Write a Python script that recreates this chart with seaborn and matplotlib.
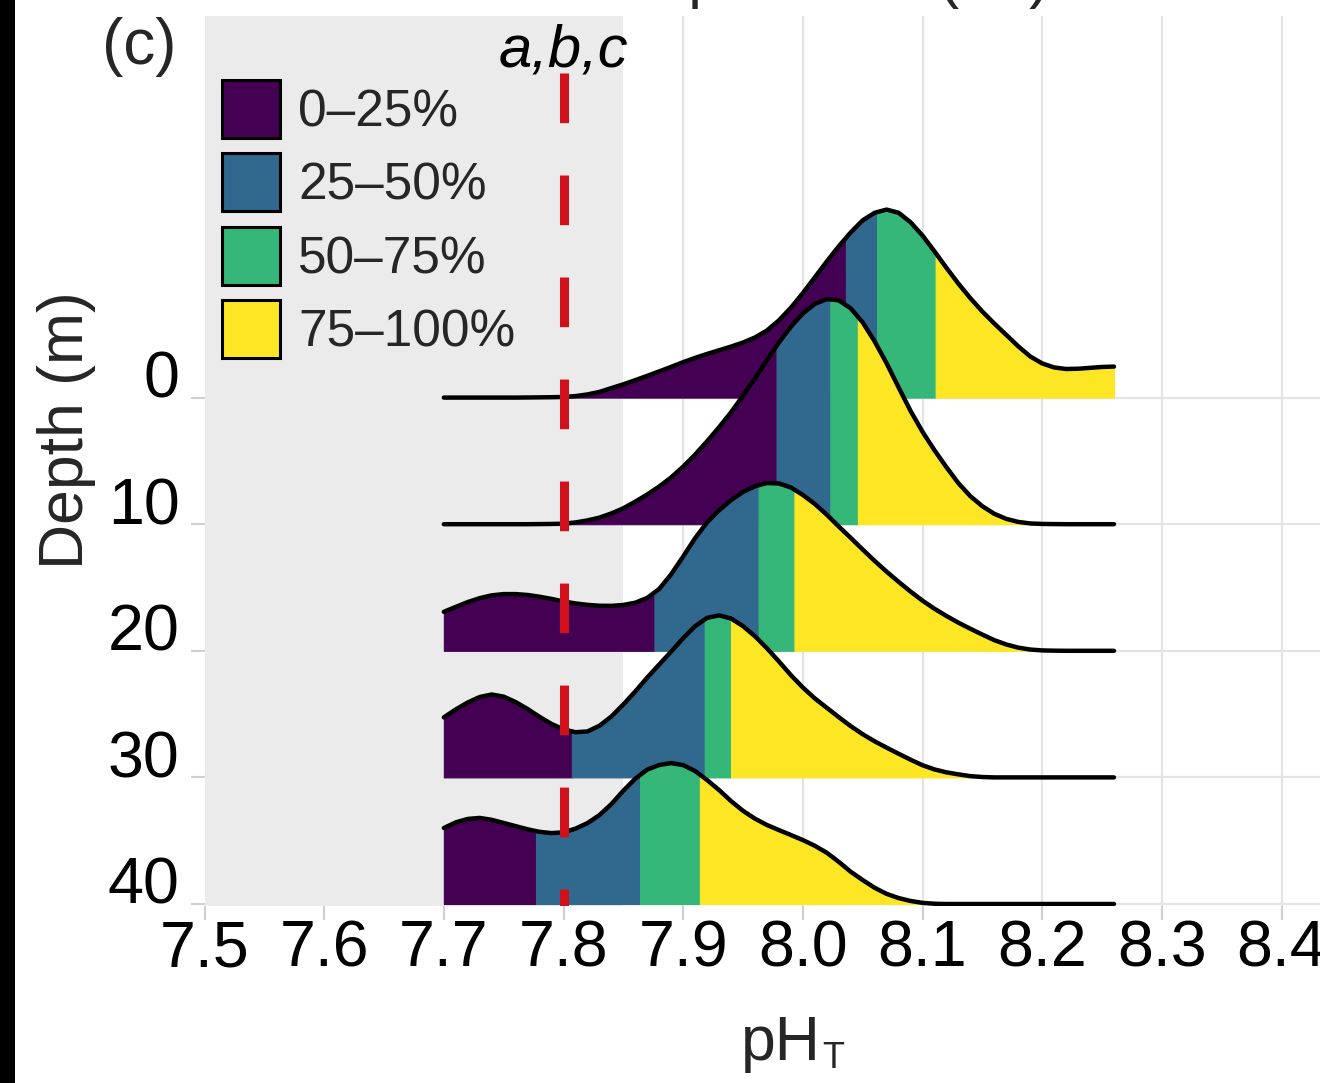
import matplotlib
matplotlib.use("Agg")
import matplotlib.pyplot as plt
from matplotlib.patches import Patch, Rectangle
from matplotlib.transforms import blended_transform_factory
import numpy as np
import pandas as pd
import seaborn as sns

# pH values at which each ridge height is sampled
ph_grid = [7.70, 7.71, 7.72, 7.73, 7.74, 7.75, 7.76, 7.77, 7.78, 7.79,
           7.80, 7.81, 7.82, 7.83, 7.84, 7.85, 7.86, 7.87, 7.88, 7.89,
           7.90, 7.91, 7.92, 7.93, 7.94, 7.95, 7.96, 7.97, 7.98, 7.99,
           8.00, 8.01, 8.02, 8.03, 8.04, 8.05, 8.06, 8.07, 8.08, 8.09,
           8.10, 8.11, 8.12, 8.13, 8.14, 8.15, 8.16, 8.17, 8.18, 8.19,
           8.20, 8.21, 8.22, 8.23, 8.24, 8.25, 8.26]

depths = [0, 10, 20, 30, 40]

# scaled density heights (depth-axis units) for each depth
ridge_0m = [0.00, 0.00, 0.00, 0.00, 0.00, 0.00, 0.00, 0.01, 0.02, 0.03,
            0.05, 0.12, 0.25, 0.45, 0.75, 1.05, 1.38, 1.72, 2.07, 2.43,
            2.80, 3.14, 3.45, 3.74, 4.03, 4.35, 4.75, 5.30, 6.10, 7.10,
            8.25, 9.50, 10.75, 11.95, 13.05, 14.00, 14.60, 14.85, 14.60, 13.85,
            12.80, 11.55, 10.25, 9.00, 7.85, 6.80, 5.85, 4.95, 4.05, 3.25,
            2.70, 2.38, 2.26, 2.28, 2.35, 2.42, 2.45]
ridge_10m = [0.00, 0.00, 0.00, 0.00, 0.00, 0.00, 0.00, 0.00, 0.01, 0.02,
             0.04, 0.14, 0.30, 0.52, 0.85, 1.26, 1.78, 2.35, 2.98, 3.70,
             4.55, 5.50, 6.55, 7.66, 8.84, 10.15, 11.52, 12.95, 14.35, 15.60,
             16.65, 17.40, 17.78, 17.68, 17.05, 15.94, 14.44, 12.71, 10.81, 8.95,
             7.30, 5.84, 4.50, 3.24, 2.21, 1.42, 0.82, 0.42, 0.18, 0.06,
             0.02, 0.01, 0.00, 0.00, 0.00, 0.00, 0.00]
ridge_20m = [3.08, 3.47, 3.85, 4.16, 4.38, 4.48, 4.48, 4.41, 4.27, 4.10,
             3.90, 3.74, 3.63, 3.56, 3.55, 3.62, 3.80, 4.18, 4.89, 6.05,
             7.45, 8.90, 10.15, 11.10, 11.90, 12.55, 13.00, 13.25, 13.22, 12.90,
             12.31, 11.60, 10.75, 9.82, 8.92, 8.00, 7.10, 6.25, 5.45, 4.68,
             3.96, 3.32, 2.75, 2.22, 1.74, 1.28, 0.84, 0.50, 0.25, 0.10,
             0.03, 0.01, 0.00, 0.00, 0.00, 0.00, 0.00]
ridge_30m = [4.74, 5.37, 5.92, 6.35, 6.55, 6.38, 5.95, 5.40, 4.78, 4.22,
             3.80, 3.57, 3.63, 4.08, 4.81, 5.76, 6.79, 7.89, 8.92, 9.94,
             11.00, 11.95, 12.60, 12.80, 12.55, 11.95, 11.15, 10.20, 9.16, 8.08,
             7.10, 6.24, 5.50, 4.76, 4.05, 3.41, 2.85, 2.35, 1.87, 1.40,
             0.96, 0.63, 0.40, 0.24, 0.10, 0.03, 0.00, 0.00, 0.00, 0.00,
             0.00, 0.00, 0.00, 0.00, 0.00, 0.00, 0.00]
ridge_40m = [6.00, 6.45, 6.72, 6.80, 6.65, 6.40, 6.15, 5.90, 5.70, 5.60,
             5.66, 5.95, 6.39, 7.02, 7.89, 8.95, 9.90, 10.62, 10.98, 11.13,
             10.97, 10.50, 9.79, 9.00, 8.13, 7.36, 6.74, 6.24, 5.84, 5.45,
             5.05, 4.60, 4.05, 3.33, 2.55, 1.89, 1.28, 0.80, 0.47, 0.24,
             0.09, 0.02, 0.00, 0.00, 0.00, 0.00, 0.00, 0.00, 0.00, 0.00,
             0.00, 0.00, 0.00, 0.00, 0.00, 0.00, 0.00]
ridges = [ridge_0m, ridge_10m, ridge_20m, ridge_30m, ridge_40m]

# pH at the 25th, 50th and 75th percentiles for each depth
cuts_0m = [8.036, 8.062, 8.111]
cuts_10m = [7.978, 8.023, 8.046]
cuts_20m = [7.876, 7.963, 7.993]
cuts_30m = [7.807, 7.918, 7.940]
cuts_40m = [7.777, 7.864, 7.914]
quartile_cuts = [cuts_0m, cuts_10m, cuts_20m, cuts_30m, cuts_40m]

quartile_labels = ["0\u201325%", "25\u201350%", "50\u201375%", "75\u2013100%"]
quartile_colors = ["#440154", "#31688E", "#35B779", "#FDE725"]

threshold_ph = 7.8
threshold_label = "a,b,c"
shade_upper_ph = 7.85
x_ticks = [7.5, 7.6, 7.7, 7.8, 7.9, 8.0, 8.1, 8.2, 8.3, 8.4]
x_ticklabels = ["7.5", "7.6", "7.7", "7.8", "7.9", "8.0", "8.1", "8.2", "8.3", "8.4"]

sns.set_theme(style="white")
plt.rcParams["font.family"] = ["Liberation Sans", "DejaVu Sans"]

W, H = 1320, 1083
fig = plt.figure(figsize=(W / 100, H / 100), dpi=100)
fig.patch.set_facecolor("white")

left_px, right_px, top_px, bottom_px = 204.5, 1320, 16, 905.5
ax = fig.add_axes([left_px / W, 1 - bottom_px / H,
                   (right_px - left_px) / W, (bottom_px - top_px) / H])
ax.set_facecolor("white")

px_per_ph = 1196.7
ax.set_xlim(7.5, 7.5 + (right_px - left_px) / px_per_ph)
px_per_m = 12.66
base0_px = 397.6
ax.set_ylim(40 + (bottom_px - 904.0) / px_per_m, -(base0_px - top_px) / px_per_m)

# shaded low-pH band
ax.axvspan(7.0, shade_upper_ph, color="#EBEBEB", lw=0, zorder=0.6)

# ridges: quartile-coloured fills, then the density outline
x_arr = np.array(ph_grid)
for i, (depth, heights, cuts) in enumerate(zip(depths, ridges, quartile_cuts)):
    h_arr = np.array(heights)
    edges = [x_arr[0]] + list(cuts) + [x_arr[-1]]
    z = 2 + i
    for q in range(4):
        lo, hi = edges[q], edges[q + 1]
        inner = x_arr[(x_arr > lo) & (x_arr < hi)]
        xs = np.concatenate([[lo], inner, [hi]])
        hs = np.interp(xs, x_arr, h_arr)
        ax.fill_between(xs, depth, depth - hs, color=quartile_colors[q],
                        lw=0.8, edgecolor=quartile_colors[q], zorder=z)
    df = pd.DataFrame({"pH": x_arr, "top": depth - h_arr})
    sns.lineplot(data=df, x="pH", y="top", ax=ax, color="black", lw=3.2,
                 sort=False, estimator=None, zorder=z + 0.5, legend=False)

# threshold line and its label
trans = blended_transform_factory(ax.transData, ax.transAxes)
ax.plot([threshold_ph, threshold_ph], [(bottom_px - 73) / (bottom_px - top_px), -0.1],
        transform=trans, color="#D0101A", lw=6.5, dashes=(5.5, 5.8),
        solid_capstyle="butt", zorder=20, clip_on=True)
ax.text(threshold_ph, (bottom_px - 67) / (bottom_px - top_px), threshold_label,
        transform=trans, ha="center", va="baseline", fontsize=43,
        style="italic", color="black", zorder=21)

# axes styling
for s in ax.spines.values():
    s.set_visible(False)
ax.set_xticks(x_ticks)
ax.set_xticklabels(x_ticklabels)
ax.set_yticks(depths)
ax.set_yticklabels([str(d) for d in depths])
plt.setp(ax.get_yticklabels(), va="baseline")
ax.grid(True, color="#E4E4E4", lw=1.6)
ax.set_axisbelow(True)
ax.tick_params(axis="both", which="major", length=10, width=1.5,
               color="#CFCFCF", labelsize=46.5, labelcolor="black",
               bottom=True, left=True)
ax.tick_params(axis="x", pad=0)
ax.tick_params(axis="y", pad=8)

# x-axis title: pH with a subscript T
ax.set_xlabel("pH", fontsize=45)
ax.xaxis.label.set_va("baseline")
ax.xaxis.label.set_ha("right")
ax.xaxis.set_label_coords((821 - left_px) / (right_px - left_px),
                          (bottom_px - 1060) / (bottom_px - top_px))
ax.text((822 - left_px) / (right_px - left_px), (bottom_px - 1068) / (bottom_px - top_px),
        "T", transform=ax.transAxes, fontsize=26, ha="left", va="baseline",
        clip_on=False)

ax.set_ylabel("Depth (m)", fontsize=45)
ax.yaxis.label.set_rotation_mode("default")
ax.yaxis.label.set_va("center")
ax.yaxis.label.set_ha("center")
ax.yaxis.set_label_coords((66 - left_px) / (right_px - left_px),
                          (bottom_px - 430) / (bottom_px - top_px))

# legend
fs_leg = 37
em = fs_leg * 100 / 72
handles = [Patch(facecolor=c, edgecolor="black", linewidth=2.2) for c in quartile_colors]
leg = ax.legend(handles, quartile_labels, loc="upper left",
                bbox_to_anchor=(222 / W, 1 - 80 / H), bbox_transform=fig.transFigure,
                frameon=False, fontsize=fs_leg, borderpad=0, borderaxespad=0,
                handlelength=58 / em, handleheight=1.36,
                handletextpad=18 / em, labelspacing=0.3)
leg.set_zorder(30)

# panel tag and the axis title of the panel above (cut at the top edge)
fig.text(102 / W, 1 - 64 / H, "(c)", fontsize=46, ha="left", va="baseline")
fig.text(810 / W, 1 + 4 / H, "Temperature (\u00b0C)", fontsize=45,
         ha="center", va="baseline")

fig.add_artist(Rectangle((0, 0), 15 / W, 1, transform=fig.transFigure,
                         facecolor="black", edgecolor="none", zorder=50))

fig.savefig("out.png", dpi=100, facecolor="white")
